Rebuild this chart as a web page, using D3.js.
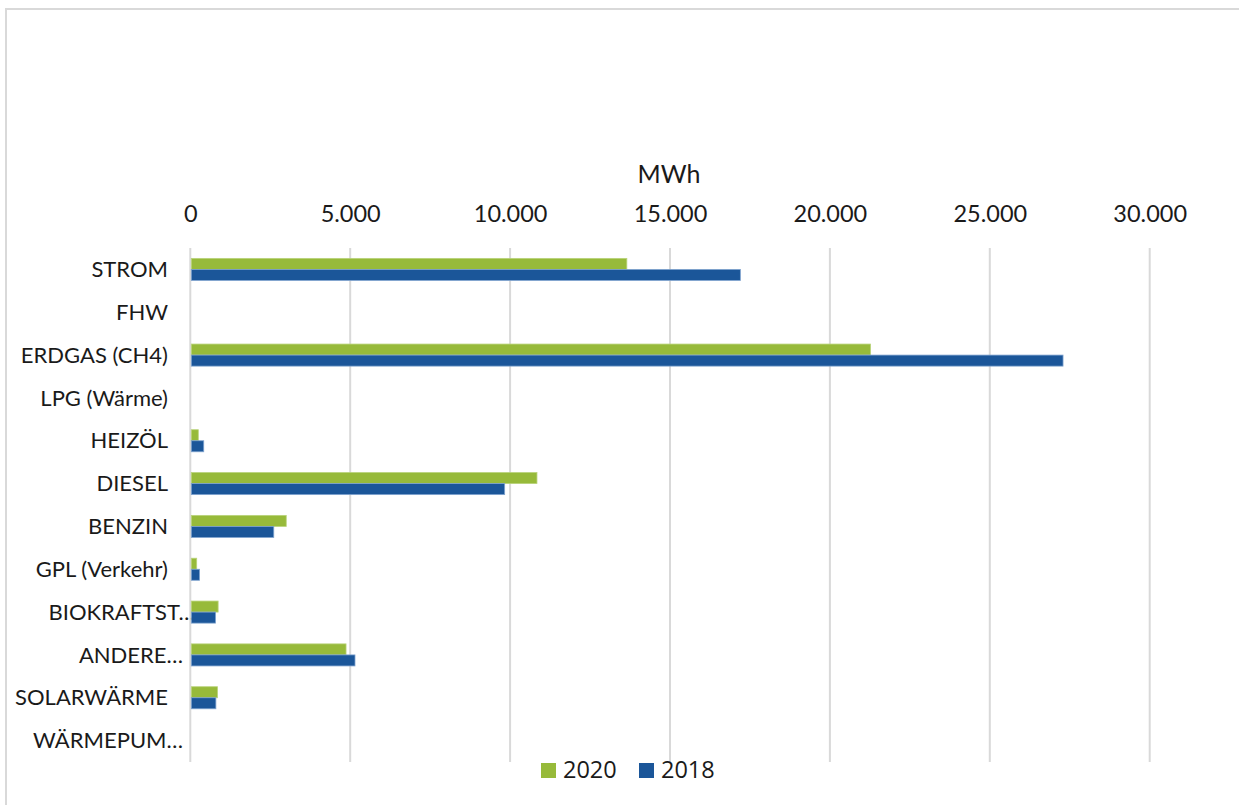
<!DOCTYPE html>
<html>
<head>
<meta charset="utf-8">
<script src="https://cdn.jsdelivr.net/npm/d3@7"></script>
<style>
  html, body { margin: 0; padding: 0; background: #fff; }
  svg { display: block; }
</style>
</head>
<body>
<script>
// Energy consumption by carrier, MWh
const categories = ["STROM", "FHW", "ERDGAS (CH4)", "LPG (Wärme)", "HEIZÖL", "DIESEL",
  "BENZIN", "GPL (Verkehr)", "BIOKRAFTST…", "ANDERE…", "SOLARWÄRME", "WÄRMEPUM…"];
const seriesNames = ["2020", "2018"];
const values2020 = [13650, 0, 21270, 0, 250, 10840, 3000, 200, 870, 4870, 850, 0];
const values2018 = [17200, 0, 27290, 0, 420, 9830, 2610, 290, 790, 5150, 800, 0];
const tickValues = [0, 5000, 10000, 15000, 20000, 25000, 30000];
const axisTitle = "MWh";

const colors = { "2020": "#97ba3a", "2018": "#1b5699" };
const edges = { "2020": "#b9d37a", "2018": "#7fa3cf" };

const W = 1239, H = 805;
const svg = d3.select("body").append("svg").attr("width", W).attr("height", H);

// outer chart frame
svg.append("rect")
  .attr("x", 6).attr("y", 9).attr("width", W + 10).attr("height", H + 10)
  .attr("fill", "none").attr("stroke", "#d9d9d9").attr("stroke-width", 2);

const plot = { left: 190.3, right: 1149.7, top: 248, bottom: 762 };

const x = d3.scaleLinear().domain([0, 30000]).range([plot.left, plot.right]);
const y = d3.scaleBand().domain(categories).range([plot.top, plot.bottom])
  .paddingInner(0.485).paddingOuter(0.2425);
const ySub = d3.scaleBand().domain(seriesNames).range([0, y.bandwidth()]);

const fmt = v => d3.format(",")(v).replace(/,/g, ".");

// vertical gridlines
svg.append("g").selectAll("line").data(tickValues).join("line")
  .attr("x1", d => x(d)).attr("x2", d => x(d))
  .attr("y1", plot.top).attr("y2", plot.bottom)
  .attr("stroke", "#d9d9d9").attr("stroke-width", 2);

// top value axis
const xAxis = svg.append("g")
  .attr("transform", `translate(0,${plot.top})`)
  .call(d3.axisTop(x).tickValues(tickValues).tickFormat(fmt).tickSize(0).tickPadding(26));
xAxis.select(".domain").remove();
xAxis.selectAll("text")
  .attr("font-family", "Lato, 'Noto Sans', sans-serif")
  .attr("font-size", 23.5).attr("fill", "#1a1a1a");

// axis title
svg.append("text")
  .attr("x", x(15000) - 1).attr("y", 183)
  .attr("text-anchor", "middle")
  .attr("font-family", "Lato, 'Noto Sans', sans-serif")
  .attr("font-size", 25).attr("fill", "#1a1a1a")
  .text(axisTitle);

// category labels
svg.append("g").selectAll("text").data(categories).join("text")
  .attr("x", d => d.endsWith("…") ? (d.startsWith("BIO") ? 195 : 183) : 168)
  .attr("y", d => y(d) + y.bandwidth() / 2)
  .attr("dy", "0.35em")
  .attr("text-anchor", "end")
  .attr("font-family", "Lato, 'Noto Sans', sans-serif")
  .attr("font-size", 22).attr("fill", "#1a1a1a")
  .text(d => d);

// bars
const rows = categories.map((c, i) => ({ cat: c, vals: [
  { s: "2020", v: values2020[i] },
  { s: "2018", v: values2018[i] }
]}));

const groups = svg.append("g").selectAll("g").data(rows).join("g")
  .attr("transform", d => `translate(0,${y(d.cat)})`);
groups.selectAll("rect").data(d => d.vals.filter(e => e.v > 0)).join("rect")
  .attr("x", x(0) + 1)
  .attr("y", d => ySub(d.s))
  .attr("width", d => x(d.v) - x(0) - 1)
  .attr("height", ySub.bandwidth())
  .attr("fill", d => colors[d.s])
  .attr("stroke", d => edges[d.s])
  .attr("stroke-width", 0.8);

// legend
const legend = svg.append("g").attr("transform", "translate(541,763)");
const legendItems = [
  { s: "2020", dx: 0 },
  { s: "2018", dx: 98 }
];
const li = legend.selectAll("g").data(legendItems).join("g")
  .attr("transform", d => `translate(${d.dx},0)`);
li.append("rect").attr("width", 15).attr("height", 15)
  .attr("fill", d => colors[d.s]);
li.append("text")
  .attr("x", 22).attr("y", 15)
  .attr("font-family", "'Open Sans', 'Liberation Sans', sans-serif")
  .attr("font-size", 23.5).attr("fill", "#1a1a1a")
  .text(d => d.s);
</script>
</body>
</html>
